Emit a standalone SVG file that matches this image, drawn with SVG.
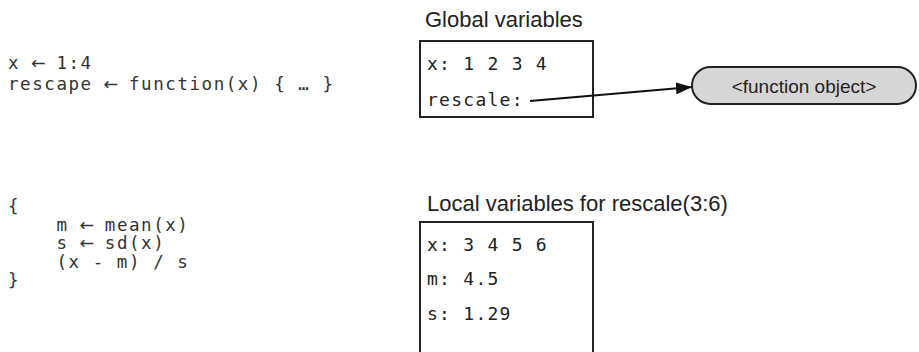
<svg xmlns="http://www.w3.org/2000/svg" width="919" height="352" viewBox="0 0 919 352">
<style>
.code{font-family:"DejaVu Sans Mono","Liberation Mono",monospace;font-size:17.5px;letter-spacing:1.56px;fill:#333}
.arr{font-family:"DejaVu Sans","Liberation Sans",sans-serif;font-size:17.5px;letter-spacing:0;fill:#333}
.head{font-family:"Liberation Sans",Arial,sans-serif;font-size:22px;fill:#222}
.box{fill:#fff;stroke:#222;stroke-width:2}
.val{font-family:"DejaVu Sans Mono","Liberation Mono",monospace;font-size:18px;letter-spacing:1.26px;fill:#222}
.conn{stroke:#111;stroke-width:2;fill:none}
</style>
<defs>
<marker id="ahb" viewBox="0 0 16 12" refX="16" refY="6" markerWidth="16" markerHeight="12" markerUnits="userSpaceOnUse" orient="auto">
<path d="M0,0 L16,6 L0,12 z" fill="#111"/>
</marker>
</defs>
<g id="code-global">
<text class="code" y="69"><tspan x="8">x</tspan><tspan class="arr" x="31">←</tspan><tspan x="56.4">1:4</tspan></text>
<text class="code" y="90"><tspan x="8">rescape</tspan><tspan class="arr" x="103.6">←</tspan><tspan x="129">function(x) { … }</tspan></text>
</g>
<g id="code-body">
<text class="code" x="8" y="212">{</text>
<text class="code" y="230.5"><tspan x="56.4">m</tspan><tspan class="arr" x="79.4">←</tspan><tspan x="104.8">mean(x)</tspan></text>
<text class="code" y="249"><tspan x="56.4">s</tspan><tspan class="arr" x="79.4">←</tspan><tspan x="104.8">sd(x)</tspan></text>
<text class="code" x="56.4" y="267.5">(x - m) / s</text>
<text class="code" x="8" y="286">}</text>
</g>
<g id="global-vars">
<text class="head" x="425" y="27">Global variables</text>
<rect class="box" x="420" y="41" width="173" height="76"/>
<text class="val" x="427" y="70">x: 1 2 3 4</text>
<text class="val" x="427" y="106">rescale:</text>
</g>
<g id="function-object">
<rect x="692" y="67" width="224" height="37" rx="18.5" ry="18.5" fill="#d6d6d6" stroke="#222" stroke-width="2"/>
<text x="804" y="92.5" text-anchor="middle" font-family="'Liberation Sans',Arial,sans-serif" font-size="19" fill="#222">&lt;function object&gt;</text>
</g>
<g id="local-vars">
<text class="head" x="427" y="211">Local variables for rescale(3:6)</text>
<rect class="box" x="420" y="222" width="173" height="140"/>
<text class="val" x="427" y="251">x: 3 4 5 6</text>
<text class="val" x="427" y="285">m: 4.5</text>
<text class="val" x="427" y="320">s: 1.29</text>
</g>
<g id="connectors">
<line class="conn" x1="530" y1="101" x2="692" y2="87" marker-end="url(#ahb)"/>
</g>
</svg>
